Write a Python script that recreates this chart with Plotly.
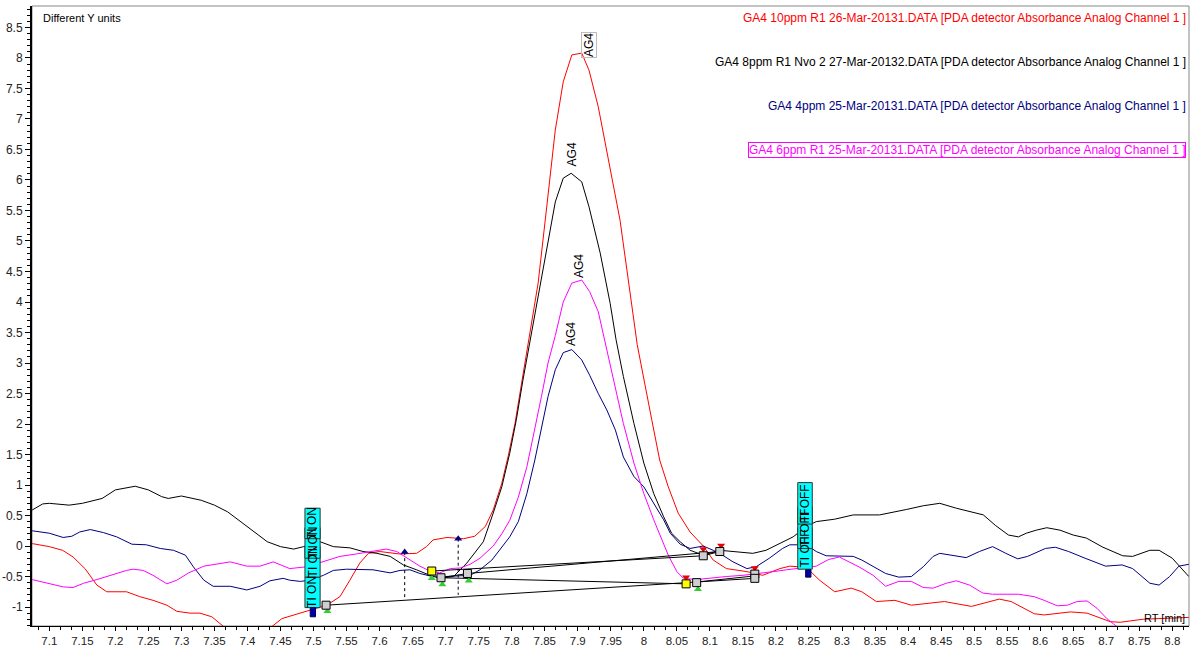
import plotly.graph_objects as go

# ---------------- data ----------------
red_x = [7.074,7.10,7.12,7.136,7.154,7.172,7.187,7.217,7.237,7.257,7.278,7.293,7.313,7.328,7.346,7.364,7.38,7.40,7.42,7.437,7.452,7.469,7.495,7.52,7.54,7.555,7.57,7.583,7.60,7.63,7.656,7.671,7.681,7.702,7.727,7.744,7.76,7.772,7.785,7.795,7.805,7.815,7.825,7.84,7.853,7.866,7.878,7.891,7.906,7.917,7.931,7.944,7.964,7.99,8.0,8.012,8.024,8.037,8.052,8.07,8.09,8.105,8.125,8.156,8.18,8.206,8.221,8.246,8.266,8.289,8.314,8.33,8.352,8.38,8.405,8.455,8.496,8.538,8.556,8.591,8.606,8.646,8.671,8.706,8.721,8.756,8.825]
red_y = [0.04,-0.01,-0.07,-0.18,-0.37,-0.64,-0.75,-0.75,-0.83,-0.89,-0.97,-1.07,-1.10,-1.10,-1.16,-1.32,-1.42,-1.48,-1.42,-1.32,-1.19,-1.13,-1.05,-0.97,-0.83,-0.56,-0.28,-0.12,-0.09,-0.13,-0.12,-0.01,0.10,0.14,0.12,0.16,0.32,0.59,1.03,1.49,2.01,2.67,3.30,4.31,5.56,6.82,7.61,8.05,8.08,7.80,7.20,6.49,5.34,3.30,2.72,2.07,1.41,0.97,0.54,0.23,0.0,-0.23,-0.37,-0.42,-0.48,-0.37,-0.33,-0.35,-0.56,-0.75,-0.69,-0.75,-0.91,-0.89,-0.97,-0.91,-0.99,-0.87,-0.91,-1.11,-1.13,-1.08,-1.10,-1.24,-1.25,-1.20,-1.17]

black_x = [7.074,7.09,7.10,7.13,7.15,7.18,7.20,7.23,7.25,7.27,7.28,7.30,7.33,7.35,7.37,7.40,7.43,7.45,7.47,7.485,7.51,7.53,7.555,7.575,7.596,7.616,7.636,7.656,7.676,7.691,7.712,7.732,7.757,7.772,7.785,7.797,7.807,7.817,7.828,7.848,7.866,7.878,7.89,7.906,7.917,7.934,7.949,7.958,7.969,7.985,8.0,8.015,8.03,8.042,8.055,8.07,8.09,8.115,8.14,8.165,8.185,8.21,8.226,8.246,8.261,8.289,8.317,8.357,8.377,8.398,8.423,8.448,8.473,8.496,8.514,8.532,8.552,8.567,8.579,8.594,8.61,8.63,8.65,8.67,8.695,8.725,8.74,8.766,8.78,8.80,8.825]
black_y = [0.59,0.69,0.70,0.67,0.70,0.78,0.92,0.98,0.92,0.81,0.78,0.82,0.75,0.67,0.56,0.32,0.07,-0.01,-0.05,-0.01,0.07,-0.01,-0.03,-0.09,-0.12,-0.17,-0.31,-0.39,-0.48,-0.53,-0.50,-0.28,0.07,0.54,0.97,1.52,2.07,2.72,3.38,4.55,5.64,6.03,6.11,5.97,5.56,4.80,3.98,3.38,2.78,2.01,1.36,0.86,0.48,0.21,0.07,-0.07,-0.15,-0.07,-0.09,-0.12,-0.07,0.07,0.15,0.32,0.40,0.44,0.51,0.51,0.55,0.60,0.66,0.70,0.62,0.56,0.51,0.34,0.18,0.15,0.21,0.26,0.30,0.26,0.18,0.13,-0.02,-0.16,-0.17,-0.07,-0.07,-0.20,-0.50]

blue_x = [7.074,7.10,7.121,7.134,7.146,7.162,7.182,7.202,7.225,7.247,7.268,7.288,7.306,7.318,7.334,7.348,7.374,7.399,7.419,7.434,7.454,7.464,7.48,7.495,7.515,7.53,7.55,7.59,7.616,7.631,7.646,7.661,7.676,7.70,7.737,7.752,7.77,7.785,7.797,7.81,7.823,7.835,7.848,7.855,7.866,7.878,7.891,7.906,7.918,7.931,7.944,7.957,7.969,7.985,8.0,8.015,8.03,8.04,8.055,8.07,8.09,8.105,8.115,8.135,8.156,8.17,8.19,8.21,8.221,8.246,8.261,8.276,8.317,8.33,8.366,8.386,8.405,8.423,8.438,8.448,8.468,8.488,8.508,8.528,8.548,8.566,8.581,8.608,8.623,8.643,8.668,8.699,8.724,8.74,8.766,8.78,8.796,8.81,8.825]
blue_y = [0.25,0.21,0.14,0.16,0.23,0.27,0.22,0.15,0.03,0.02,-0.04,-0.07,-0.15,-0.34,-0.56,-0.66,-0.66,-0.72,-0.66,-0.57,-0.53,-0.56,-0.58,-0.56,-0.48,-0.40,-0.38,-0.39,-0.44,-0.40,-0.39,-0.45,-0.49,-0.50,-0.48,-0.39,-0.23,-0.01,0.15,0.40,0.86,1.41,2.07,2.45,2.89,3.17,3.22,3.05,2.80,2.50,2.23,1.90,1.46,1.14,0.97,0.70,0.43,0.21,0.03,-0.04,0.0,-0.07,-0.12,-0.26,-0.37,-0.34,-0.20,-0.04,0.02,0.02,-0.09,-0.16,-0.17,-0.23,-0.45,-0.51,-0.50,-0.34,-0.17,-0.12,-0.15,-0.19,-0.09,-0.01,-0.12,-0.21,-0.17,-0.04,-0.02,-0.09,-0.20,-0.33,-0.31,-0.37,-0.61,-0.64,-0.50,-0.33,-0.30]

magenta_x = [7.074,7.10,7.121,7.136,7.152,7.172,7.192,7.217,7.227,7.242,7.257,7.278,7.293,7.311,7.334,7.374,7.399,7.419,7.439,7.464,7.49,7.515,7.54,7.565,7.59,7.61,7.626,7.641,7.661,7.676,7.691,7.707,7.722,7.737,7.752,7.772,7.785,7.797,7.81,7.823,7.835,7.845,7.855,7.866,7.878,7.891,7.906,7.918,7.931,7.943,7.954,7.969,7.985,8.0,8.015,8.027,8.037,8.05,8.06,8.08,8.095,8.125,8.15,8.168,8.196,8.216,8.234,8.261,8.28,8.296,8.327,8.347,8.366,8.386,8.405,8.423,8.438,8.458,8.473,8.493,8.513,8.528,8.567,8.591,8.606,8.626,8.641,8.656,8.671,8.686,8.701,8.716,8.74,8.78,8.825]
magenta_y = [-0.55,-0.62,-0.67,-0.68,-0.61,-0.55,-0.48,-0.40,-0.38,-0.40,-0.48,-0.62,-0.56,-0.44,-0.33,-0.26,-0.33,-0.33,-0.26,-0.37,-0.34,-0.26,-0.17,-0.13,-0.09,-0.05,-0.09,-0.19,-0.33,-0.41,-0.44,-0.37,-0.36,-0.30,-0.20,0.0,0.20,0.42,0.80,1.30,1.90,2.45,3.00,3.45,4.00,4.31,4.36,4.17,3.84,3.25,2.72,2.01,1.36,0.86,0.43,0.10,-0.15,-0.42,-0.53,-0.55,-0.53,-0.50,-0.48,-0.46,-0.42,-0.39,-0.37,-0.33,-0.22,-0.18,-0.35,-0.48,-0.66,-0.58,-0.58,-0.68,-0.69,-0.61,-0.57,-0.64,-0.77,-0.79,-0.79,-0.83,-0.89,-0.98,-0.97,-0.91,-0.90,-1.02,-1.19,-1.32,-1.50,-1.60,-1.70]

series_names = [
    "GA4 10ppm R1 26-Mar-20131.DATA [PDA detector Absorbance Analog Channel 1 ]",
    "GA4 8ppm R1 Nvo 2 27-Mar-20132.DATA [PDA detector Absorbance Analog Channel 1 ]",
    "GA4 4ppm 25-Mar-20131.DATA [PDA detector Absorbance Analog Channel 1 ]",
    "GA4 6ppm R1 25-Mar-20131.DATA [PDA detector Absorbance Analog Channel 1 ]",
]
series_colors = ["#ff0000", "#000000", "#000080", "#ff00ff"]

# peak labels (x, y of label base)
peak_label_x = [7.917, 7.891, 7.901, 7.890]
peak_label_y = [8.00, 6.22, 4.40, 3.28]
peak_label_text = "AG4"

# integration baselines: (x0, y0, x1, y1)
baseline_x0 = [7.519, 7.679, 7.733, 7.693, 8.080, 7.693, 8.090]
baseline_y0 = [-0.97, -0.41, -0.45, -0.52, -0.59, -0.52, -0.16]
baseline_x1 = [8.168, 8.090, 8.115, 8.064, 8.168, 7.733, 8.115]
baseline_y1 = [-0.53, -0.16, -0.09, -0.62, -0.49, -0.45, -0.09]

# peak start/end markers
square_x = [7.519, 7.693, 7.733, 8.080, 8.090, 8.115, 8.168, 8.168]
square_y = [-0.97, -0.52, -0.45, -0.60, -0.16, -0.09, -0.46, -0.53]
yellow_x = [7.679, 8.064]
yellow_y = [-0.41, -0.62]
green_x = [7.521, 7.679, 7.695, 7.735, 8.082]
green_y = [-1.07, -0.53, -0.63, -0.57, -0.71]
reddown_x = [8.064, 8.090, 8.117, 8.168, 8.168]
reddown_y = [-0.51, -0.05, 0.01, -0.36, -0.42]

# dotted markers
dotted_x = [7.638, 7.719]
dotted_y_top = [-0.10, 0.12]
dotted_y_bot = [-0.87, -0.80]

# timed events
on_x0, on_x1 = 7.487, 7.510
on_bottoms = [-1.01, -0.51, -0.20, 0.12]
on_tops = [-0.51, -0.01, 0.30, 0.62]
off_x0, off_x1 = 8.233, 8.255
off_bottoms = [-0.38, -0.04, 0.36]
off_tops = [0.30, 0.64, 1.04]
event_mark_x = [7.499, 8.249]
event_mark_y0 = [-1.16, -0.51]
event_mark_y1 = [-1.01, -0.39]

x_ticks = [round(7.1 + 0.05 * i, 2) for i in range(35)]
x_ticktext = ["7.1","7.15","7.2","7.25","7.3","7.35","7.4","7.45","7.5","7.55","7.6","7.65","7.7","7.75","7.8","7.85","7.9","7.95","8","8.05","8.1","8.15","8.2","8.25","8.3","8.35","8.4","8.45","8.5","8.55","8.6","8.65","8.7","8.75","8.8"]
y_ticks = [-1,-0.5,0,0.5,1,1.5,2,2.5,3,3.5,4,4.5,5,5.5,6,6.5,7,7.5,8,8.5]
y_ticktext = ["-1","-0.5","0","0.5","1","1.5","2","2.5","3","3.5","4","4.5","5","5.5","6","6.5","7","7.5","8","8.5"]

FONT = "Arial, Liberation Sans, sans-serif"

fig = go.Figure()

for xs, ys, name, col in zip([red_x, black_x, blue_x, magenta_x],
                             [red_y, black_y, blue_y, magenta_y],
                             series_names, series_colors):
    fig.add_trace(go.Scatter(x=xs, y=ys, mode="lines", name=name,
                             line=dict(color=col, width=1), showlegend=False,
                             hoverinfo="skip"))

for x0, y0, x1, y1 in zip(baseline_x0, baseline_y0, baseline_x1, baseline_y1):
    fig.add_trace(go.Scatter(x=[x0, x1], y=[y0, y1], mode="lines",
                             line=dict(color="black", width=1),
                             showlegend=False, hoverinfo="skip"))

for xd, yt, yb in zip(dotted_x, dotted_y_top, dotted_y_bot):
    fig.add_trace(go.Scatter(x=[xd, xd], y=[yt, yb], mode="lines",
                             line=dict(color="black", width=1, dash="dot"),
                             showlegend=False, hoverinfo="skip"))

fig.add_trace(go.Scatter(x=dotted_x, y=dotted_y_top, mode="markers",
                         marker=dict(symbol="triangle-up", size=7, color="#000080"),
                         showlegend=False, hoverinfo="skip"))
fig.add_trace(go.Scatter(x=green_x, y=green_y, mode="markers",
                         marker=dict(symbol="triangle-up", size=7, color="#33cc33"),
                         showlegend=False, hoverinfo="skip"))
fig.add_trace(go.Scatter(x=reddown_x, y=reddown_y, mode="markers",
                         marker=dict(symbol="triangle-down", size=7, color="#ee0000"),
                         showlegend=False, hoverinfo="skip"))
fig.add_trace(go.Scatter(x=square_x, y=square_y, mode="markers",
                         marker=dict(symbol="square", size=8, color="#cfcfcf",
                                     line=dict(color="black", width=1)),
                         showlegend=False, hoverinfo="skip"))
fig.add_trace(go.Scatter(x=yellow_x, y=yellow_y, mode="markers",
                         marker=dict(symbol="square", size=8, color="#ffff00",
                                     line=dict(color="black", width=1)),
                         showlegend=False, hoverinfo="skip"))

shapes = []
# frame
shapes.append(dict(type="rect", xref="paper", yref="paper", x0=0, x1=1, y0=0, y1=1,
                   line=dict(color="#888888", width=1), fillcolor="rgba(0,0,0,0)", layer="below"))
# event boxes (each filled box drawn with its border, stacked)
for b, t in zip(on_bottoms, on_tops):
    shapes.append(dict(type="rect", xref="x", yref="y", x0=on_x0, x1=on_x1, y0=b, y1=t,
                       fillcolor="#00ffff", line=dict(color="#333333", width=1), layer="above"))
for b, t in zip(off_bottoms, off_tops):
    shapes.append(dict(type="rect", xref="x", yref="y", x0=off_x0, x1=off_x1, y0=b, y1=t,
                       fillcolor="#00ffff", line=dict(color="#333333", width=1), layer="above"))
for xm, y0, y1 in zip(event_mark_x, event_mark_y0, event_mark_y1):
    shapes.append(dict(type="rect", xref="x", yref="y", x0=xm - 0.004, x1=xm + 0.004, y0=y0, y1=y1,
                       fillcolor="#0000aa", line=dict(color="#000044", width=1), layer="above"))

annotations = []
for b, t in zip(on_bottoms, on_tops):
    annotations.append(dict(x=(on_x0 + on_x1) / 2, y=(b + t) / 2, xref="x", yref="y",
                            text="TI ON", textangle=-90, showarrow=False,
                            font=dict(family=FONT, size=12, color="black")))
for b, t in zip(off_bottoms, off_tops):
    annotations.append(dict(x=(off_x0 + off_x1) / 2, y=(b + t) / 2, xref="x", yref="y",
                            text="TI OFF", textangle=-90, showarrow=False,
                            font=dict(family=FONT, size=12, color="black")))
for i, (px, py) in enumerate(zip(peak_label_x, peak_label_y)):
    annotations.append(dict(x=px, y=py, xref="x", yref="y", text=peak_label_text,
                            textangle=-90, showarrow=False, xanchor="center", yanchor="bottom",
                            font=dict(family=FONT, size=12, color="black"),
                            bordercolor="#bbbbbb" if i == 0 else None,
                            borderwidth=1 if i == 0 else 0, borderpad=0))

legend_y = [0.981, 0.910, 0.839, 0.768]
for i, (name, col, ly) in enumerate(zip(series_names, series_colors, legend_y)):
    annotations.append(dict(x=0.9975, y=ly, xref="paper", yref="paper", text=name,
                            showarrow=False, xanchor="right", yanchor="middle",
                            font=dict(family=FONT, size=12, color=col),
                            bordercolor=col if i == 3 else None,
                            borderwidth=1 if i == 3 else 0, borderpad=0))
annotations.append(dict(x=0.0078, y=0.981, xref="paper", yref="paper", text="Different Y units",
                        showarrow=False, xanchor="left", yanchor="middle",
                        font=dict(family=FONT, size=11, color="black")))
annotations.append(dict(x=0.9985, y=0.0129, xref="paper", yref="paper", text="RT [min]",
                        showarrow=False, xanchor="right", yanchor="middle",
                        font=dict(family=FONT, size=11, color="black")))

fig.update_layout(
    width=1191, height=647, autosize=False,
    margin=dict(l=32, r=2, t=6, b=21, pad=0),
    paper_bgcolor="white", plot_bgcolor="white",
    shapes=shapes, annotations=annotations, showlegend=False,
    xaxis=dict(range=[7.0738, 8.8253], showgrid=False, zeroline=False, automargin=False,
               showline=True, linecolor="black", linewidth=1,
               ticks="outside", ticklen=4, tickcolor="black", tickwidth=1,
               tickvals=x_ticks, ticktext=x_ticktext,
               tickfont=dict(family=FONT, size=11.5, color="#222222"),
               minor=dict(tickmode="linear", tick0=7.1, dtick=1/60, ticks="outside",
                          ticklen=3, tickcolor="black", showgrid=False)),
    yaxis=dict(range=[-1.311, 8.852], showgrid=False, zeroline=False, automargin=False,
               showline=True, linecolor="black", linewidth=2,
               ticks="outside", ticklen=5, tickcolor="black", tickwidth=1,
               tickvals=y_ticks, ticktext=y_ticktext,
               tickfont=dict(family=FONT, size=12, color="#222222"),
               minor=dict(tickmode="linear", tick0=0, dtick=0.1, ticks="outside",
                          ticklen=3, tickcolor="black", showgrid=False)),
)

fig.write_html("out.html", config={"displayModeBar": False},
               post_script="document.body.style.margin='0';document.body.style.overflow='hidden';")
